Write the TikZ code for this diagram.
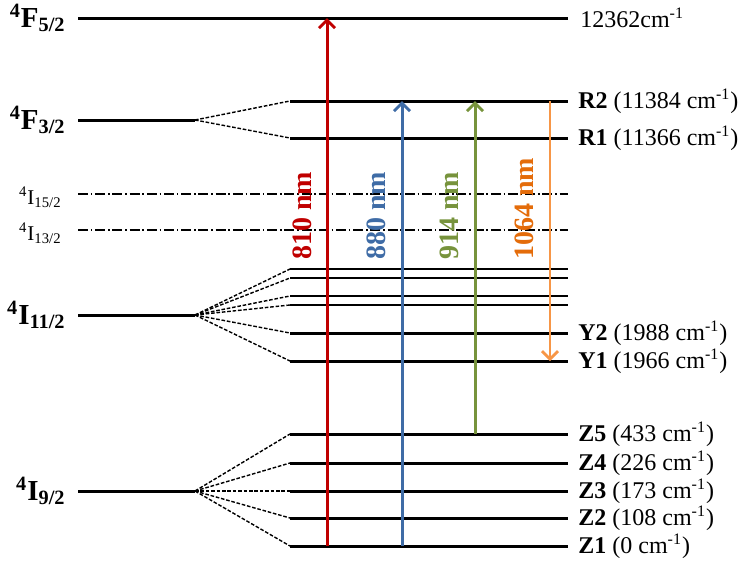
\documentclass[tikz,border=0pt]{standalone}
\usepackage{fontspec}
\setmainfont{Liberation Serif}
\usetikzlibrary{arrows.meta, positioning, calc}
\definecolor{laserred}{HTML}{C00000}
\definecolor{laserblue}{HTML}{3F6CA6}
\definecolor{lasergreen}{HTML}{77933C}
\definecolor{laserorange}{HTML}{F79646}
\definecolor{darkorange}{HTML}{E46C0A}

\begin{document}
\begin{tikzpicture}[
  x=0.5pt, y=-0.5pt,
  level/.style={line width=1.5pt},
  sublevel/.style={line width=1pt},
  weak/.style={line width=0.7pt, dash pattern=on 5pt off 1.4pt on 0.8pt off 1.4pt},
  split/.style={line width=0.7pt, dash pattern=on 1.8pt off 0.9pt},
  term/.style={anchor=east, inner sep=0pt, font=\fontsize{14.5}{14.5}\selectfont\bfseries},
  minorterm/.style={anchor=base east, inner sep=0pt, font=\fontsize{10.5}{10.5}\selectfont},
  stark/.style={anchor=west, inner sep=0pt, font=\fontsize{12}{12}\selectfont},
  pump/.style={-{Straight Barb[length=4pt, width=8pt]}, line width=1.5pt},
  wave/.style={rotate=90, anchor=west, inner sep=0pt, font=\fontsize{14}{14}\selectfont\bfseries}
]
  \useasboundingbox (0,0) rectangle (746,563);

  % manifolds
  \coordinate (f52) at (78,18);
  \coordinate (f52e) at (568,18);
  \coordinate (f32) at (78,120);
  \coordinate (f32e) at (195,120);
  \coordinate (i1512) at (78,194);
  \coordinate (i1512e) at (568,194);
  \coordinate (i1312) at (78,230);
  \coordinate (i1312e) at (568,230);
  \coordinate (i112) at (78,315);
  \coordinate (i112e) at (195,315);
  \coordinate (i92) at (78,491);
  \coordinate (i92e) at (195,491);

  \draw[level] (f52) -- (f52e);
  \draw[level] (f32) -- (f32e);
  \draw[weak] (i1512) -- (i1512e);
  \draw[weak] (i1312) -- (i1312e);
  \draw[level] (i112) -- (i112e);
  \draw[level] (i92) -- (i92e);

  \node[term, left=6pt of f52] (f52lab) {\textsuperscript{4}F\textsubscript{5/2}};
  \node[term, left=6pt of f32] (f32lab) {\textsuperscript{4}F\textsubscript{3/2}};
  \node[minorterm] (i1512lab) at ($(i1512)+(-8pt,-5pt)$) {\textsuperscript{4}I\textsubscript{15/2}};
  \node[minorterm] (i1312lab) at ($(i1312)+(-8pt,-5pt)$) {\textsuperscript{4}I\textsubscript{13/2}};
  \node[term, left=6pt of i112] (i112lab) {\textsuperscript{4}I\textsubscript{11/2}};
  \node[term, left=6pt of i92] (i92lab) {\textsuperscript{4}I\textsubscript{9/2}};
  \node[stark, right=6pt of f52e] (f52val) {12362cm\textsuperscript{-1}};

  % Stark levels of 4F3/2
  \coordinate (r2) at (290,101);
  \coordinate (r2e) at (568,101);
  \coordinate (r1) at (290,138);
  \coordinate (r1e) at (568,138);
  \draw[level] (r2) -- (r2e);
  \draw[level] (r1) -- (r1e);
  \draw[split] (f32e) -- (r2);
  \draw[split] (f32e) -- (r1);
  \node[stark, right=5pt of r2e] (r2lab) {\textbf{R2} (11384 cm\textsuperscript{-1})};
  \node[stark, right=5pt of r1e] (r1lab) {\textbf{R1} (11366 cm\textsuperscript{-1})};

  % Stark levels of 4I11/2
  \coordinate (y6) at (290,269);
  \coordinate (y6e) at (568,269);
  \coordinate (y5) at (290,278);
  \coordinate (y5e) at (568,278);
  \coordinate (y4) at (290,296);
  \coordinate (y4e) at (568,296);
  \coordinate (y3) at (290,305);
  \coordinate (y3e) at (568,305);
  \coordinate (y2) at (290,333);
  \coordinate (y2e) at (568,333);
  \coordinate (y1) at (290,361);
  \coordinate (y1e) at (568,361);
  \draw[sublevel] (y6) -- (y6e);
  \draw[sublevel] (y5) -- (y5e);
  \draw[sublevel] (y4) -- (y4e);
  \draw[sublevel] (y3) -- (y3e);
  \draw[level] (y2) -- (y2e);
  \draw[level] (y1) -- (y1e);
  \draw[split] (i112e) -- (y6);
  \draw[split] (i112e) -- (y5);
  \draw[split] (i112e) -- (y4);
  \draw[split] (i112e) -- (y3);
  \draw[split] (i112e) -- (y2);
  \draw[split] (i112e) -- (y1);
  \node[stark, right=5pt of y2e] (y2lab) {\textbf{Y2} (1988 cm\textsuperscript{-1})};
  \node[stark, right=5pt of y1e] (y1lab) {\textbf{Y1} (1966 cm\textsuperscript{-1})};

  % Stark levels of 4I9/2
  \coordinate (z5) at (290,434);
  \coordinate (z5e) at (568,434);
  \coordinate (z4) at (290,463);
  \coordinate (z4e) at (568,463);
  \coordinate (z3) at (290,491);
  \coordinate (z3e) at (568,491);
  \coordinate (z2) at (290,518);
  \coordinate (z2e) at (568,518);
  \coordinate (z1) at (290,546);
  \coordinate (z1e) at (568,546);
  \draw[level] (z5) -- (z5e);
  \draw[level] (z4) -- (z4e);
  \draw[level] (z3) -- (z3e);
  \draw[level] (z2) -- (z2e);
  \draw[level] (z1) -- (z1e);
  \draw[split] (i92e) -- (z5);
  \draw[split] (i92e) -- (z4);
  \draw[split] (i92e) -- (z3);
  \draw[split] (i92e) -- (z2);
  \draw[split] (i92e) -- (z1);
  \node[stark, right=5pt of z5e] (z5lab) {\textbf{Z5} (433 cm\textsuperscript{-1})};
  \node[stark, right=5pt of z4e] (z4lab) {\textbf{Z4} (226 cm\textsuperscript{-1})};
  \node[stark, right=5pt of z3e] (z3lab) {\textbf{Z3} (173 cm\textsuperscript{-1})};
  \node[stark, right=5pt of z2e] (z2lab) {\textbf{Z2} (108 cm\textsuperscript{-1})};
  \node[stark, right=5pt of z1e] (z1lab) {\textbf{Z1} (0 cm\textsuperscript{-1})};

  % transitions
  \coordinate (x810) at (327,0);
  \coordinate (x880) at (402,0);
  \coordinate (x914) at (475,0);
  \coordinate (x1064) at (550,0);
  \draw[pump, laserred] (x810 |- z1) -- (x810 |- f52);
  \draw[pump, laserblue] (x880 |- z1) -- (x880 |- r2);
  \draw[pump, lasergreen] (x914 |- z5) -- (x914 |- r2);
  \draw[pump, laserorange, line width=1.4pt] (x1064 |- r2) -- (x1064 |- y1);

  \node[wave, laserred] (l810) at (302,260) {810 nm};
  \node[wave, laserblue] (l880) at (376,260) {880 nm};
  \node[wave, lasergreen] (l914) at (449,260) {914 nm};
  \node[wave, darkorange] (l1064) at (524,260) {1064 nm};
\end{tikzpicture}
\end{document}
